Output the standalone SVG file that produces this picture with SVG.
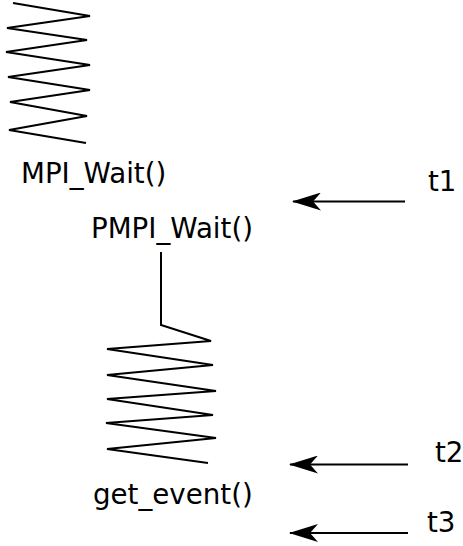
<svg xmlns="http://www.w3.org/2000/svg" width="463" height="546" viewBox="0 0 463 546">
<style>
.ln{fill:none;stroke:#000;stroke-width:2;stroke-linejoin:miter}
.tx{font-family:"DejaVu Sans",sans-serif;font-size:27.7px;fill:#000}
</style>
<defs>
<marker id="ah" viewBox="0 0 30 18" refX="29" refY="9" markerWidth="30" markerHeight="18" markerUnits="userSpaceOnUse" orient="auto">
<path d="M30,9 L1,0 L9,9 L1,18 Z" fill="#000"/>
</marker>
</defs>
<rect width="463" height="546" fill="#fff"/>
<g id="mpi_wait">
<polyline class="ln" points="13,3 90,16 7,28 87,40 6,52 90,65 8,77 90,90 10,102 87,116 9,130 86,143"/>
<text class="tx" x="21" y="183">MPI_Wait()</text>
</g>
<g id="pmpi_wait">
<text class="tx" x="91" y="238">PMPI_Wait()</text>
</g>
<g id="get_event">
<polyline class="ln" points="161,252 161,325 211,341 107,349 213,365 107,375 216,391 107,399 213,415 106,423 216,438 107,449 208,463"/>
<text class="tx" x="93" y="504">get_event()</text>
</g>
<g id="t1"><text class="tx" x="428" y="191">t1</text></g>
<g id="t2"><text class="tx" x="435" y="462">t2</text></g>
<g id="t3"><text class="tx" x="427" y="532">t3</text></g>
<g id="connectors">
<line class="ln" x1="405" y1="201.5" x2="293" y2="201.5" marker-end="url(#ah)"/>
<line class="ln" x1="408" y1="464.5" x2="290" y2="464.5" marker-end="url(#ah)"/>
<line class="ln" x1="408" y1="533" x2="290" y2="533" marker-end="url(#ah)"/>
</g>
</svg>
